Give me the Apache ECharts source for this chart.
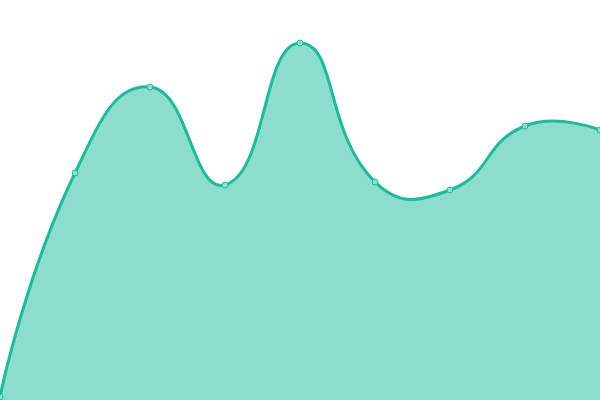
<!DOCTYPE html>
<html>
<head>
<meta charset="utf-8">
<script src="https://cdn.jsdelivr.net/npm/echarts@6/dist/echarts.min.js"></script>
<style>
  html, body { margin: 0; padding: 0; background: #fff; }
  #chart { width: 600px; height: 400px; }
</style>
</head>
<body>
<div id="chart"></div>
<script>
const chart = echarts.init(document.getElementById('chart'));

// categories and values
const days = ['1', '2', '3', '4', '5', '6', '7', '8', '9'];
const values = [3, 227, 313, 215, 357, 218, 210, 274, 270];

const SMOOTH = 0.5;

// control points for a cardinal-like curve (no per-segment clamp, so it may overshoot)
function controlPoints(pts) {
    var minX = Infinity, minY = Infinity, maxX = -Infinity, maxY = -Infinity;
    pts.forEach(p => {
        minX = Math.min(minX, p[0]); maxX = Math.max(maxX, p[0]);
        minY = Math.min(minY, p[1]); maxY = Math.max(maxY, p[1]);
    });
    var cps = [];
    pts.forEach((p, i) => {
        if (i === 0 || i === pts.length - 1) {
            cps.push([p.slice(), p.slice()]);
            return;
        }
        var prev = pts[i - 1], next = pts[i + 1];
        var vx = (next[0] - prev[0]) * SMOOTH, vy = (next[1] - prev[1]) * SMOOTH;
        var d0 = Math.hypot(p[0] - prev[0], p[1] - prev[1]);
        var d1 = Math.hypot(next[0] - p[0], next[1] - p[1]);
        var sum = d0 + d1;
        if (sum) { d0 /= sum; d1 /= sum; }
        var c0 = [p[0] - vx * d0, p[1] - vy * d0];
        var c1 = [p[0] + vx * d1, p[1] + vy * d1];
        [c0, c1].forEach(c => {
            c[0] = Math.min(Math.max(c[0], minX), maxX);
            c[1] = Math.min(Math.max(c[1], minY), maxY);
        });
        cps.push([c0, c1]);
    });
    return cps;
}

function renderCurve(params, api) {
    if (params.dataIndex !== 0) return null;
    var pts = values.map((v, i) => api.coord([i, v]));
    var cps = controlPoints(pts);
    var base = api.coord([0, 0])[1];
    var d = 'M' + pts[0][0] + ' ' + pts[0][1];
    for (var i = 0; i < pts.length - 1; i++) {
        var a = cps[i][1], b = cps[i + 1][0], p = pts[i + 1];
        d += ' C' + a[0] + ' ' + a[1] + ' ' + b[0] + ' ' + b[1] + ' ' + p[0] + ' ' + p[1];
    }
    var last = pts[pts.length - 1];
    var area = d + ' L' + last[0] + ' ' + base + ' L' + pts[0][0] + ' ' + base + ' Z';
    return {
        type: 'group',
        children: [{
            type: 'path',
            shape: { pathData: area },
            style: { fill: 'rgba(26, 188, 156, 0.5)', stroke: null }
        }, {
            type: 'path',
            shape: { pathData: d },
            style: { fill: null, stroke: '#1abc9c', lineWidth: 3 }
        }]
    };
}

chart.setOption({
    animation: false,
    grid: {
        left: 0,
        right: 0,
        top: 0,
        bottom: 0
    },
    xAxis: {
        type: 'category',
        boundaryGap: false,
        show: false,
        data: days
    },
    yAxis: {
        type: 'value',
        min: 0,
        max: 400,
        show: false
    },
    series: [{
        type: 'custom',
        renderItem: renderCurve,
        data: values.map((v, i) => [i, v]),
        encode: { x: 0, y: 1 },
        clip: true,
        z: 1
    }, {
        type: 'line',
        data: values,
        symbol: 'circle',
        symbolSize: 6,
        lineStyle: { opacity: 0 },
        itemStyle: {
            color: '#8ae0cf',
            borderColor: '#1abc9c',
            borderWidth: 1
        },
        z: 2
    }]
});
</script>
</body>
</html>
